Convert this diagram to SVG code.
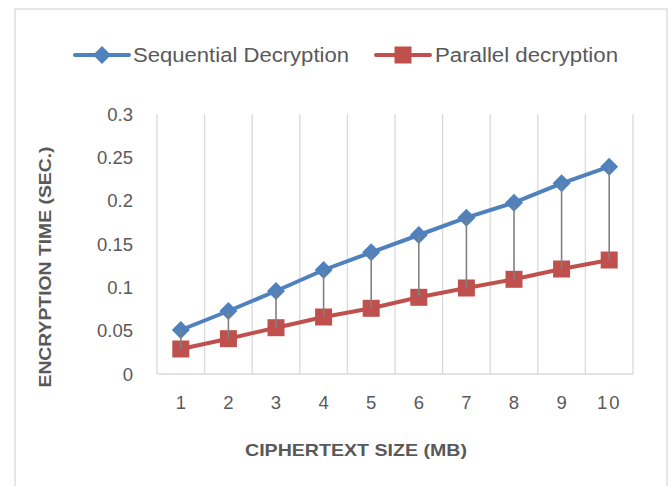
<svg xmlns="http://www.w3.org/2000/svg" width="671" height="486" viewBox="0 0 671 486">
<defs>
<style>
.lbl{font-family:"Liberation Sans","Open Sans",sans-serif;font-size:18.5px;fill:#595959}
.ttl{font-family:"Liberation Sans","Open Sans",sans-serif;font-size:17px;font-weight:bold;fill:#595959}
.leg{font-family:"Liberation Sans","Open Sans",sans-serif;font-size:20px;fill:#595959}
.grid{stroke:#D9D9D9;stroke-width:1.3;fill:none}
.seq{stroke:#4F81BD;stroke-width:4;fill:none;stroke-linejoin:round;stroke-linecap:round}
.par{stroke:#C0504D;stroke-width:4;fill:none;stroke-linejoin:round;stroke-linecap:round}
.drop{stroke:#808080;stroke-width:1.6}
</style>
<path id="dia" d="M0,-9 L9,0 L0,9 L-9,0 Z" fill="#4F81BD"/>
<rect id="sq" x="-8.5" y="-8.5" width="17" height="17" fill="#C0504D"/>
</defs>
<rect x="0" y="0" width="671" height="486" fill="#ffffff"/>
<rect x="15" y="9" width="652" height="490" fill="none" stroke="#D9D9D9" stroke-width="1.3"/>

<g id="legend">
<line x1="75" y1="55" x2="129" y2="55" class="seq"/>
<use href="#dia" x="102" y="55"/>
<text class="leg" x="133" y="62" textLength="216" lengthAdjust="spacingAndGlyphs">Sequential Decryption</text>
<line x1="376" y1="55" x2="430" y2="55" class="par"/>
<use href="#sq" x="403" y="55"/>
<text class="leg" x="435" y="62" textLength="183" lengthAdjust="spacingAndGlyphs">Parallel decryption</text>
</g>

<g id="grid">
<line class="grid" x1="157" y1="114" x2="157" y2="374"/>
<line class="grid" x1="204.6" y1="114" x2="204.6" y2="374"/>
<line class="grid" x1="252.2" y1="114" x2="252.2" y2="374"/>
<line class="grid" x1="299.8" y1="114" x2="299.8" y2="374"/>
<line class="grid" x1="347.4" y1="114" x2="347.4" y2="374"/>
<line class="grid" x1="395" y1="114" x2="395" y2="374"/>
<line class="grid" x1="442.6" y1="114" x2="442.6" y2="374"/>
<line class="grid" x1="490.2" y1="114" x2="490.2" y2="374"/>
<line class="grid" x1="537.8" y1="114" x2="537.8" y2="374"/>
<line class="grid" x1="585.4" y1="114" x2="585.4" y2="374"/>
<line class="grid" x1="633" y1="114" x2="633" y2="374"/>
<line class="grid" x1="157" y1="374" x2="633" y2="374"/>
</g>

<g id="y-axis">
<text class="lbl" text-anchor="end" x="133" y="120.5">0.3</text>
<text class="lbl" text-anchor="end" x="133" y="163.8">0.25</text>
<text class="lbl" text-anchor="end" x="133" y="207.2">0.2</text>
<text class="lbl" text-anchor="end" x="133" y="250.5">0.15</text>
<text class="lbl" text-anchor="end" x="133" y="293.8">0.1</text>
<text class="lbl" text-anchor="end" x="133" y="337.2">0.05</text>
<text class="lbl" text-anchor="end" x="133" y="380.5">0</text>
<text class="ttl" text-anchor="middle" transform="translate(51,267) rotate(-90)" textLength="241" lengthAdjust="spacingAndGlyphs">ENCRYPTION TIME (SEC.)</text>
</g>

<g id="x-axis">
<text class="lbl" text-anchor="middle" x="180.8" y="409">1</text>
<text class="lbl" text-anchor="middle" x="228.4" y="409">2</text>
<text class="lbl" text-anchor="middle" x="276" y="409">3</text>
<text class="lbl" text-anchor="middle" x="323.6" y="409">4</text>
<text class="lbl" text-anchor="middle" x="371.2" y="409">5</text>
<text class="lbl" text-anchor="middle" x="418.8" y="409">6</text>
<text class="lbl" text-anchor="middle" x="466.4" y="409">7</text>
<text class="lbl" text-anchor="middle" x="514" y="409">8</text>
<text class="lbl" text-anchor="middle" x="561.6" y="409">9</text>
<text class="lbl" text-anchor="middle" x="609.2" y="409" letter-spacing="2">10</text>
<text class="ttl" text-anchor="middle" x="356" y="456" textLength="222" lengthAdjust="spacingAndGlyphs">CIPHERTEXT SIZE (MB)</text>
</g>

<g id="series-sequential">
<polyline class="seq" points="180.8,330 228.4,311 276,291 323.6,270 371.2,252.3 418.8,235 466.4,217.7 514,202.7 561.6,183.3 609.2,166.7"/>
<use href="#dia" x="180.8" y="330"/>
<use href="#dia" x="228.4" y="311"/>
<use href="#dia" x="276" y="291"/>
<use href="#dia" x="323.6" y="270"/>
<use href="#dia" x="371.2" y="252.3"/>
<use href="#dia" x="418.8" y="235"/>
<use href="#dia" x="466.4" y="217.7"/>
<use href="#dia" x="514" y="202.7"/>
<use href="#dia" x="561.6" y="183.3"/>
<use href="#dia" x="609.2" y="166.7"/>
</g>

<g id="series-parallel">
<polyline class="par" points="180.8,349 228.4,338.7 276,327.7 323.6,317 371.2,308.3 418.8,297.3 466.4,288 514,279.3 561.6,269 609.2,260"/>
<use href="#sq" x="180.8" y="349"/>
<use href="#sq" x="228.4" y="338.7"/>
<use href="#sq" x="276" y="327.7"/>
<use href="#sq" x="323.6" y="317"/>
<use href="#sq" x="371.2" y="308.3"/>
<use href="#sq" x="418.8" y="297.3"/>
<use href="#sq" x="466.4" y="288"/>
<use href="#sq" x="514" y="279.3"/>
<use href="#sq" x="561.6" y="269"/>
<use href="#sq" x="609.2" y="260"/>
</g>

<g id="connectors">
<line class="drop" x1="180.8" y1="330" x2="180.8" y2="349"/>
<line class="drop" x1="228.4" y1="311" x2="228.4" y2="338.7"/>
<line class="drop" x1="276" y1="291" x2="276" y2="327.7"/>
<line class="drop" x1="323.6" y1="270" x2="323.6" y2="317"/>
<line class="drop" x1="371.2" y1="252.3" x2="371.2" y2="308.3"/>
<line class="drop" x1="418.8" y1="235" x2="418.8" y2="297.3"/>
<line class="drop" x1="466.4" y1="217.7" x2="466.4" y2="288"/>
<line class="drop" x1="514" y1="202.7" x2="514" y2="279.3"/>
<line class="drop" x1="561.6" y1="183.3" x2="561.6" y2="269"/>
<line class="drop" x1="609.2" y1="166.7" x2="609.2" y2="260"/>
</g>
</svg>
